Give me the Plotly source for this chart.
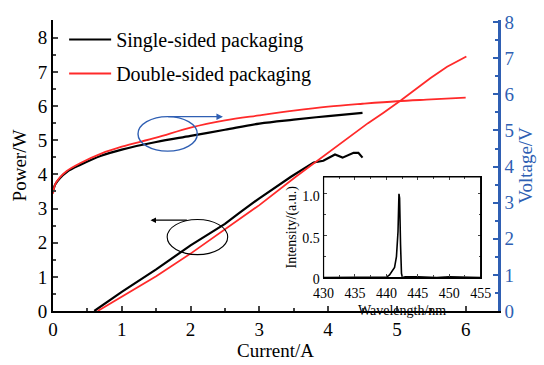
import plotly.graph_objects as go

# ---------------- data ----------------
cur_pow_single = [0.6, 1.0, 1.5, 2.0, 2.5, 2.58, 2.7, 3.0, 3.46, 3.79, 3.93, 4.1, 4.21, 4.37, 4.44, 4.5]
pow_single = [0.0, 0.56, 1.22, 1.92, 2.55, 2.68, 2.86, 3.3, 3.93, 4.35, 4.40, 4.58, 4.49, 4.63, 4.63, 4.49]

cur_pow_double = [0.65, 1.0, 1.5, 2.0, 2.5, 3.0, 3.53, 3.91, 4.34, 4.58, 4.8, 5.06, 5.49, 5.73, 6.01]
pow_double = [0.0, 0.42, 1.02, 1.68, 2.38, 3.1, 3.93, 4.5, 5.15, 5.5, 5.8, 6.17, 6.82, 7.15, 7.45]

cur_volt_single = [0.0, 0.03, 0.1, 0.2, 0.4, 0.7, 1.0, 1.5, 2.0, 2.5, 3.0, 3.5, 4.0, 4.5]
volt_single = [3.3, 3.5, 3.68, 3.85, 4.05, 4.3, 4.47, 4.68, 4.85, 5.02, 5.19, 5.3, 5.4, 5.49]

cur_volt_double = [0.0, 0.03, 0.1, 0.2, 0.4, 0.7, 1.0, 1.5, 2.0, 2.5, 3.0, 3.5, 4.0, 4.5, 5.0, 5.5, 6.0]
volt_double = [3.25, 3.5, 3.7, 3.88, 4.1, 4.36, 4.55, 4.8, 5.08, 5.28, 5.42, 5.55, 5.66, 5.74, 5.81, 5.86, 5.91]

wavelength = [430, 435, 438, 440.0, 440.5, 441.0, 441.3, 441.6, 441.85, 442.0, 442.1, 442.25, 442.4, 442.55, 443, 445, 448, 450, 455]
intensity = [0, 0, 0, 0.005, 0.03, 0.08, 0.12, 0.25, 0.55, 1.0, 0.95, 0.4, 0.05, 0.0, 0.01, 0.01, 0.0, 0.01, 0.0]

series_names = ["Single-sided packaging", "Double-sided packaging"]
inset_xticks = [430, 435, 440, 445, 450, 455]
inset_yticks = [0, 0.5, 1.0]
inset_yticklabels = ["0", "0.5", "1.0"]

BLUE = "#2f5fb3"
RED = "#ff2a2a"
FONT = "Times New Roman, Liberation Serif, serif"

fig = go.Figure()

fig.add_trace(go.Scatter(x=cur_pow_single, y=pow_single, mode="lines", name=series_names[0],
                         line=dict(color="black", width=2.2), legendgroup="a", xaxis="x", yaxis="y"))
fig.add_trace(go.Scatter(x=cur_pow_double, y=pow_double, mode="lines", name=series_names[1],
                         line=dict(color=RED, width=1.8), legendgroup="b", xaxis="x", yaxis="y"))
fig.add_trace(go.Scatter(x=cur_volt_single, y=volt_single, mode="lines", showlegend=False,
                         line=dict(color="black", width=2.2, shape="spline"), xaxis="x", yaxis="y2"))
fig.add_trace(go.Scatter(x=cur_volt_double, y=volt_double, mode="lines", showlegend=False,
                         line=dict(color=RED, width=1.8, shape="spline"), xaxis="x", yaxis="y2"))
fig.add_trace(go.Scatter(x=wavelength, y=intensity, mode="lines", showlegend=False,
                         line=dict(color="black", width=1.6), xaxis="x3", yaxis="y3"))

tickfont = dict(family=FONT, size=19, color="black")
fig.update_layout(
    width=544, height=365,
    margin=dict(l=53, r=41, t=16, b=45),
    paper_bgcolor="white", plot_bgcolor="white",
    font=dict(family=FONT, size=17, color="black"),
    showlegend=True,
    legend=dict(x=0.025, y=1.0, xanchor="left", yanchor="top", bgcolor="rgba(0,0,0,0)",
                font=dict(family=FONT, size=20, color="black"), tracegroupgap=5,
                itemwidth=42),
    xaxis=dict(range=[0, 6.47], dtick=1, tick0=0, ticks="inside", ticklen=5, tickwidth=2,
               minor=dict(dtick=0.5, ticks="inside", ticklen=3, tickwidth=1.5),
               showline=True, linecolor="black", linewidth=2, showgrid=False, zeroline=False,
               tickfont=tickfont, title=dict(text="Current/A", font=dict(family=FONT, size=19), standoff=0),
               domain=[0, 1]),
    xaxis2=dict(range=[0, 13.96], overlaying="x", side="top", tickvals=list(range(1, 14)),
                ticks="inside", ticklen=5, tickwidth=2, showticklabels=False,
                showline=True, linecolor="black", linewidth=2, showgrid=False, zeroline=False,
                anchor="y"),
    yaxis=dict(range=[0, 8.52], dtick=1, ticks="inside", ticklen=5, tickwidth=2,
               minor=dict(dtick=0.5, ticks="inside", ticklen=3, tickwidth=1.5),
               showline=True, linecolor="black", linewidth=2, showgrid=False, zeroline=False,
               tickfont=tickfont, title=dict(text="Power/W", font=dict(family=FONT, size=19), standoff=6)),
    yaxis2=dict(range=[0, 8.06], dtick=1, overlaying="y", side="right", ticks="inside", ticklen=5, tickwidth=2,
                tickcolor=BLUE,
                minor=dict(dtick=0.5, ticks="inside", ticklen=3, tickwidth=1.5, tickcolor=BLUE),
                showline=True, linecolor=BLUE, linewidth=2.5, showgrid=False, zeroline=False,
                tickfont=dict(family=FONT, size=19, color=BLUE),
                title=dict(text="Voltage/V", font=dict(family=FONT, size=19, color=BLUE), standoff=4)),
    xaxis3=dict(domain=[0.608, 0.961], anchor="y3", range=[430, 455], tickvals=inset_xticks,
                ticks="inside", ticklen=3, tickwidth=1, mirror="ticks",
                minor=dict(dtick=2.5, ticks="inside", ticklen=2, tickwidth=1),
                showline=True, linecolor="black", linewidth=1.2, showgrid=False, zeroline=False,
                ticklabelstandoff=3,
                tickfont=dict(family=FONT, size=14, color="black"),
                title=dict(text="Wavelength/nm", font=dict(family=FONT, size=14), standoff=4)),
    yaxis3=dict(domain=[0.115, 0.4605], anchor="x3", range=[0, 1.2], tickvals=inset_yticks,
                ticktext=inset_yticklabels,
                ticks="inside", ticklen=3, tickwidth=1, mirror="ticks",
                minor=dict(dtick=0.25, ticks="inside", ticklen=2, tickwidth=1),
                showline=True, linecolor="black", linewidth=1.2, showgrid=False, zeroline=False,
                ticklabelshift=2,
                tickfont=dict(family=FONT, size=14, color="black"),
                title=dict(text="Intensity/(a.u.)", font=dict(family=FONT, size=14), standoff=2)),
)

# inset background and frame
fig.add_shape(type="rect", xref="x3 domain", yref="y3 domain", x0=0, x1=1, y0=0, y1=1,
              fillcolor="white", line=dict(width=0), layer="below")
fig.add_shape(type="rect", xref="x3 domain", yref="y3 domain", x0=0, x1=1, y0=0, y1=1,
              fillcolor="rgba(0,0,0,0)", line=dict(color="black", width=1.2), layer="above")

# ellipses
fig.add_shape(type="circle", xref="x", yref="y", x0=1.236, x1=2.098, y0=4.68, y1=5.69,
              line=dict(color=BLUE, width=1.4))
fig.add_shape(type="circle", xref="x", yref="y", x0=1.66, x1=2.54, y0=1.65, y1=2.68,
              line=dict(color="black", width=1.1))

# arrows
fig.add_annotation(x=2.471, y=5.69, ax=1.652, ay=5.69, xref="x", yref="y", axref="x", ayref="y",
                   showarrow=True, arrowhead=2, arrowsize=1, arrowwidth=1.3, arrowcolor=BLUE, text="")
fig.add_annotation(x=1.418, y=2.66, ax=1.968, ay=2.66, xref="x", yref="y", axref="x", ayref="y",
                   showarrow=True, arrowhead=2, arrowsize=1, arrowwidth=1.1, arrowcolor="black", text="")

fig.write_html("out.html")
